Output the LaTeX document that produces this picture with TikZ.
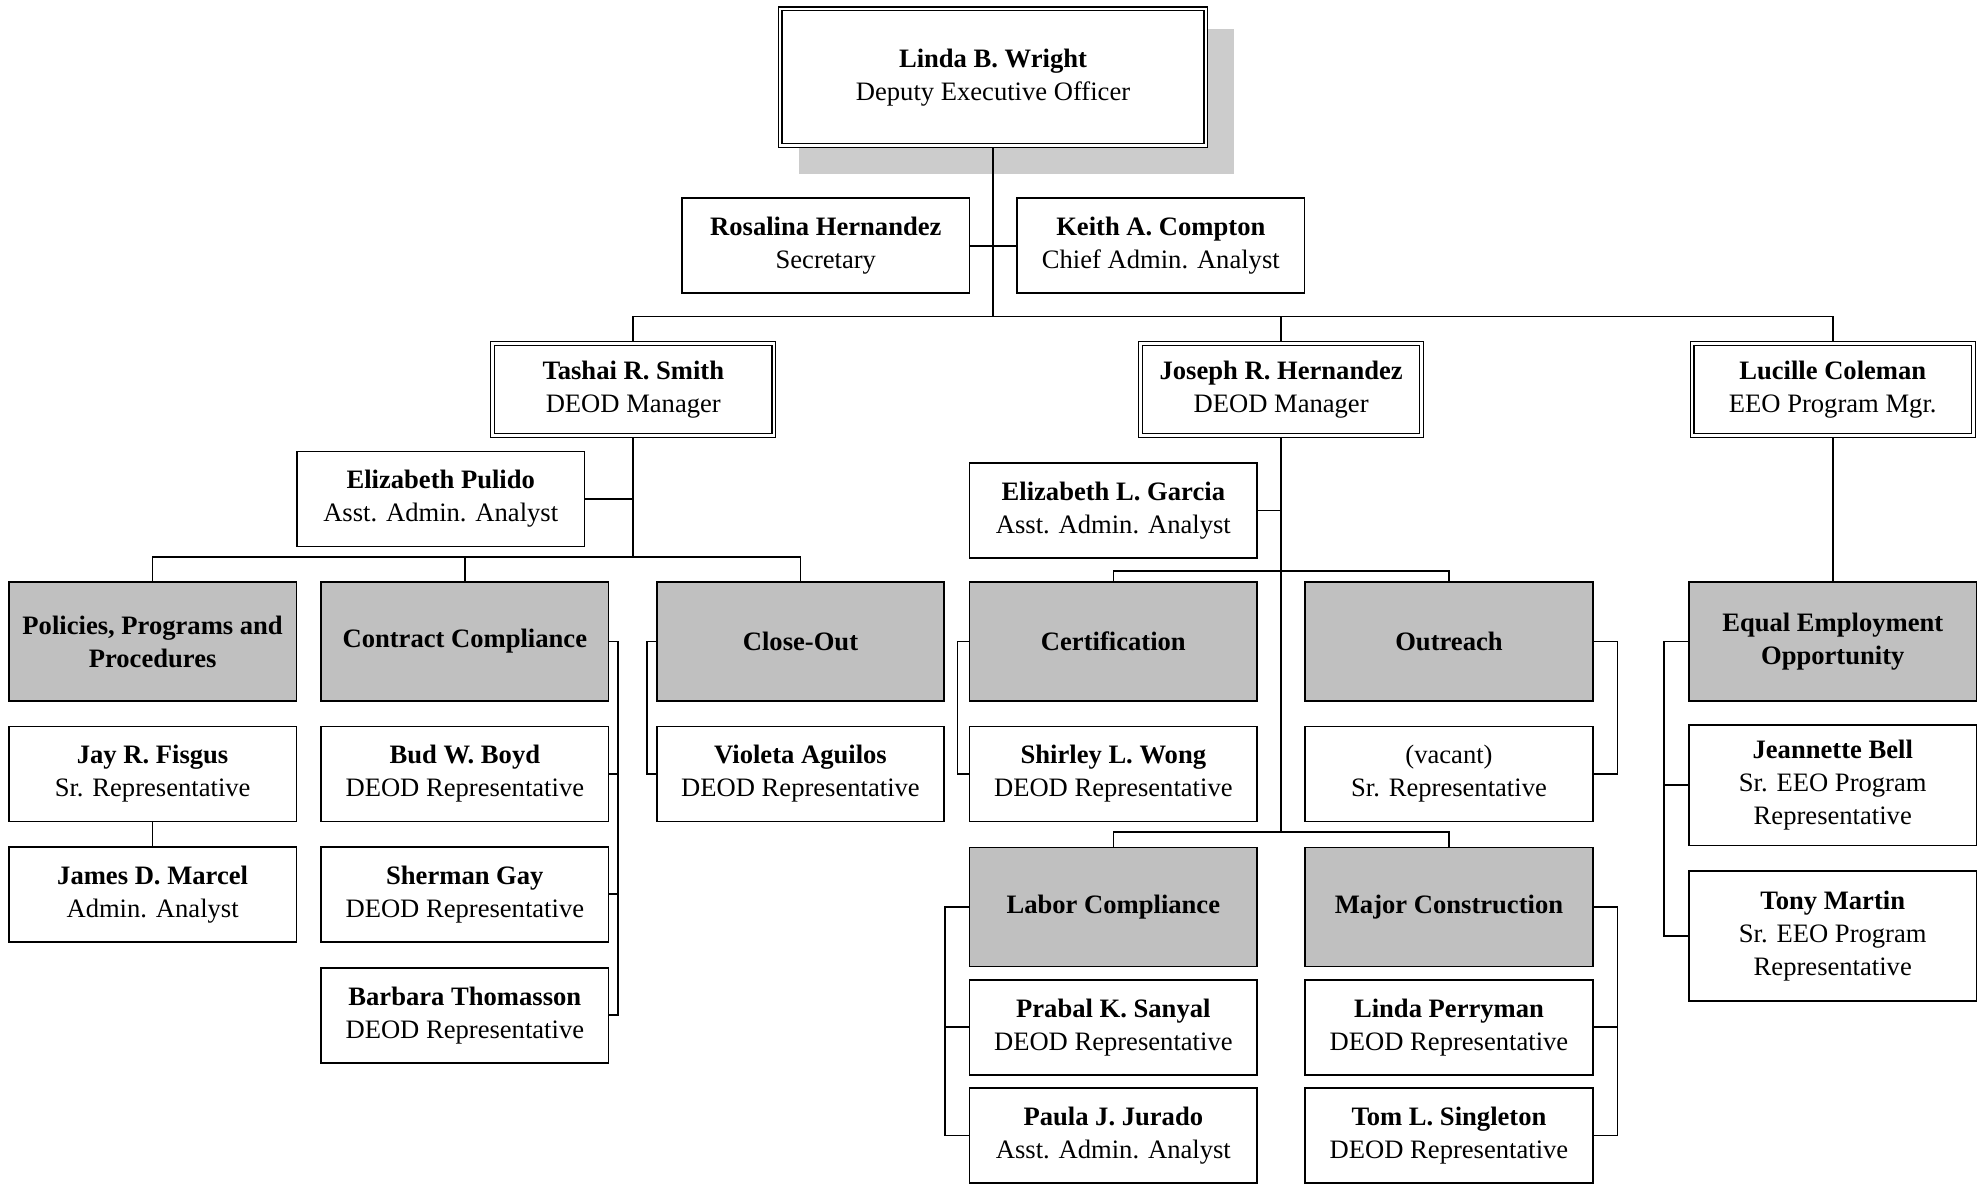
\documentclass[tikz,border=0pt]{standalone}
\usepackage{fontspec}
\setmainfont{Liberation Serif}
\usetikzlibrary{backgrounds}
\definecolor{deptgray}{RGB}{192,192,192}
\definecolor{shadowgray}{RGB}{204,204,204}
\tikzset{
  box/.style={draw, line width=1.3pt, fill=white, align=center, inner sep=0pt,
    minimum width=227pt, minimum height=75pt, font=\fontsize{21}{26}\selectfont},
  dept/.style={box, fill=deptgray, minimum height=94pt},
  mgr/.style={box, double, double distance=2pt, line width=0.9pt,
    minimum width=222pt, minimum height=73pt},
  conn/.style={line width=1.3pt, line cap=rect}
}
\begin{document}
\begin{tikzpicture}[x=1pt, y=-1pt]
\useasboundingbox (0,0) rectangle (1568,935);
% top levels
\node[mgr, minimum width=336pt, minimum height=108pt] (top) at (784,61) {\textbf{Linda B. Wright}\\Deputy Executive Officer};
\node[box] (ros) at (652,194) {\textbf{Rosalina Hernandez}\\Secretary};
\node[box] (keith) at (916.5,194) {\textbf{Keith A. Compton}\\Chief Admin. Analyst};
\node[mgr] (tashai) at (500,307.5) {\textbf{Tashai R. Smith}\\DEOD Manager};
\node[mgr] (joseph) at (1011.5,307.5) {\textbf{Joseph R. Hernandez}\\DEOD Manager};
\node[mgr] (lucille) at (1447,307.5) {\textbf{Lucille Coleman}\\EEO Program Mgr.};
\node[box] (pulido) at (348,394) {\textbf{Elizabeth Pulido}\\Asst. Admin. Analyst};
\node[box] (garcia) at (879,403) {\textbf{Elizabeth L. Garcia}\\Asst. Admin. Analyst};
% departments
\node[dept] (pol) at (120.5,506.5) {\textbf{Policies, Programs and}\\\textbf{Procedures}};
\node[dept] (cc) at (367,506.5) {\textbf{Contract Compliance}};
\node[dept] (co) at (632,506.5) {\textbf{Close-Out}};
\node[dept] (cert) at (879,506.5) {\textbf{Certification}};
\node[dept] (out) at (1144,506.5) {\textbf{Outreach}};
\node[dept] (eeo) at (1447,506.5) {\textbf{Equal Employment}\\\textbf{Opportunity}};
\node[dept] (labor) at (879,716) {\textbf{Labor Compliance}};
\node[dept] (major) at (1144,716) {\textbf{Major Construction}};
% staff
\node[box] (jay) at (120.5,611) {\textbf{Jay R. Fisgus}\\Sr. Representative};
\node[box] (james) at (120.5,706) {\textbf{James D. Marcel}\\Admin. Analyst};
\node[box] (bud) at (367,611) {\textbf{Bud W. Boyd}\\DEOD Representative};
\node[box] (sherman) at (367,706) {\textbf{Sherman Gay}\\DEOD Representative};
\node[box] (barbara) at (367,801.5) {\textbf{Barbara Thomasson}\\DEOD Representative};
\node[box] (violeta) at (632,611) {\textbf{Violeta Aguilos}\\DEOD Representative};
\node[box] (shirley) at (879,611) {\textbf{Shirley L. Wong}\\DEOD Representative};
\node[box] (vacant) at (1144,611) {(vacant)\\Sr. Representative};
\node[box] (prabal) at (879,811) {\textbf{Prabal K. Sanyal}\\DEOD Representative};
\node[box] (paula) at (879,896.5) {\textbf{Paula J. Jurado}\\Asst. Admin. Analyst};
\node[box] (linda) at (1144,811) {\textbf{Linda Perryman}\\DEOD Representative};
\node[box] (tom) at (1144,896.5) {\textbf{Tom L. Singleton}\\DEOD Representative};
\node[box, minimum height=95pt] (jeannette) at (1447,620) {\textbf{Jeannette Bell}\\Sr. EEO Program\\Representative};
\node[box, minimum height=103pt] (tony) at (1447,739) {\textbf{Tony Martin}\\Sr. EEO Program\\Representative};
% junctions
\coordinate (j0) at (784,250);
\coordinate (j1) at (500,440);
\coordinate (j2) at (1011.5,451);
\coordinate (j3) at (1011.5,657);
\begin{scope}[on background layer]
\fill[shadowgray] (631,23) rectangle (974,137);
\draw[conn] (top.south) -- (j0);
\draw[conn] (ros.east) -- (keith.west);
\draw[conn] (tashai.north) |- (j0) -| (lucille.north);
\draw[conn] (joseph.north) -- (joseph.north |- j0);
\draw[conn] (tashai.south) -- (j1);
\draw[conn] (pulido.east) -- (pulido.east -| j1);
\draw[conn] (pol.north) |- (j1) -| (co.north);
\draw[conn] (cc.north) -- (cc.north |- j1);
\draw[conn] (jay.south) -- (james.north);
\draw[conn] (cc.east) -- ++(7,0) |- (barbara.east);
\draw[conn] (bud.east) -- ++(7,0);
\draw[conn] (sherman.east) -- ++(7,0);
\draw[conn] (co.west) -- ++(-7,0) |- (violeta.west);
\draw[conn] (joseph.south) -- (j3);
\draw[conn] (garcia.east) -- (garcia.east -| j2);
\draw[conn] (cert.north) |- (j2) -| (out.north);
\draw[conn] (labor.north) |- (j3) -| (major.north);
\draw[conn] (cert.west) -- ++(-9,0) |- (shirley.west);
\draw[conn] (out.east) -- ++(19,0) |- (vacant.east);
\draw[conn] (labor.west) -- ++(-19,0) |- (paula.west);
\draw[conn] (prabal.west) -- ++(-19,0);
\draw[conn] (major.east) -- ++(19,0) |- (tom.east);
\draw[conn] (linda.east) -- ++(19,0);
\draw[conn] (lucille.south) -- (eeo.north);
\draw[conn] (eeo.west) -- ++(-19,0) |- (tony.west);
\draw[conn] (jeannette.west) -- ++(-19,0);
\end{scope}
\end{tikzpicture}
\end{document}
